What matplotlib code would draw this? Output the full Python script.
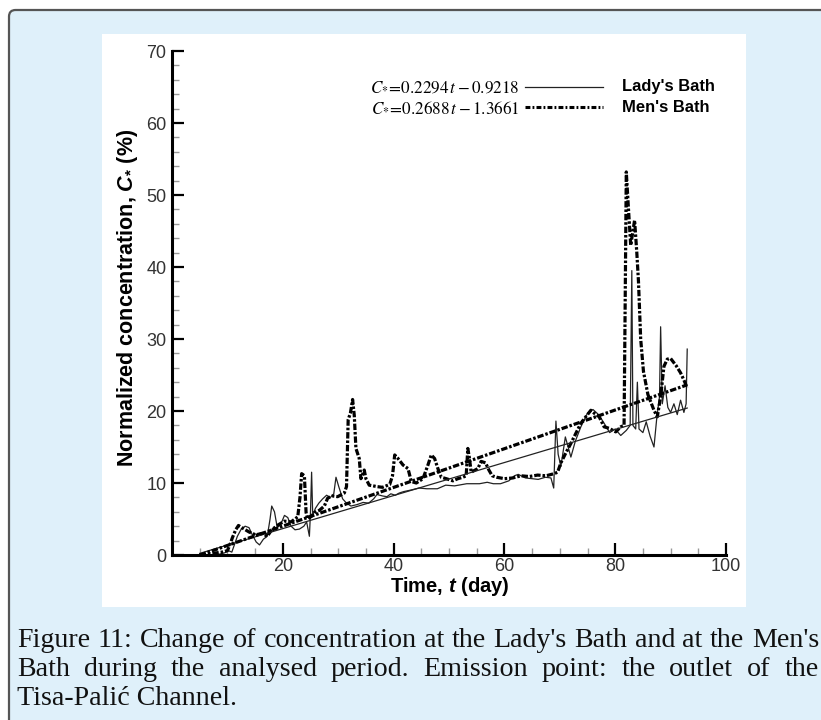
import numpy as np
import matplotlib.pyplot as plt
from matplotlib.patches import FancyBboxPatch, Rectangle
from matplotlib.lines import Line2D
from matplotlib.ticker import MultipleLocator, FixedLocator

plt.rcParams['font.family'] = ['Liberation Sans', 'DejaVu Sans']
plt.rcParams['mathtext.fontset'] = 'custom'
plt.rcParams['mathtext.rm'] = 'Liberation Sans:bold'
plt.rcParams['mathtext.it'] = 'Liberation Sans:italic:bold'
plt.rcParams['mathtext.bf'] = 'Liberation Sans:bold'

# Lady's Bath (thin solid)
lady_t = [5.0, 7.0, 8.5, 9.5, 10.2, 10.8, 11.3, 11.8, 12.5, 13.2, 13.9, 14.5, 15.2, 15.8,
          16.5, 17.2, 17.7, 18.0, 18.5, 19.0, 19.6, 20.3, 20.9, 21.5, 22.2, 23.0, 23.8,
          24.3, 24.8, 25.0, 25.2, 25.4, 25.9, 26.5, 27.2, 27.9, 28.6, 29.2, 29.6, 30.1,
          30.8, 31.5, 32.3, 33.4, 34.5, 35.5, 36.4, 37.0, 38.0, 38.8, 39.5, 40.3, 41.0,
          41.8, 43.0, 44.6, 46.0, 47.9, 49.4, 51.0, 53.2, 55.5, 56.9, 58.0, 59.3, 60.8,
          61.8, 62.5, 63.8, 65.0, 66.1, 67.4, 68.4, 68.9, 69.3, 69.7, 70.2, 71.0, 72.0,
          72.8, 73.8, 75.0, 76.0, 77.0, 78.0, 79.0, 80.0, 81.0, 82.0, 82.7, 83.0, 83.2,
          83.7, 84.0, 84.3, 85.0, 85.6, 86.3, 87.0, 87.5, 88.0, 88.2, 88.5, 89.0, 89.5,
          90.0, 90.6, 91.2, 91.8, 92.4, 92.8, 93.0]
lady_c = [0.0, 0.0, 0.1, 0.3, 0.6, 0.4, 1.5, 2.6, 3.6, 4.0, 3.8, 2.8, 1.8, 1.4,
          2.2, 2.6, 5.0, 6.8, 6.0, 3.8, 4.2, 5.5, 5.2, 4.0, 3.5, 3.6, 4.0,
          4.6, 2.6, 6.0, 11.5, 5.5, 6.5, 7.2, 7.8, 8.3, 8.0, 8.5, 10.8, 9.5,
          7.8, 7.2, 6.8, 7.0, 7.3, 7.2, 7.8, 8.4, 8.2, 8.1, 8.5, 8.3, 8.6,
          8.8, 9.0, 9.3, 9.2, 9.2, 9.7, 9.6, 9.9, 9.9, 10.1, 9.9, 9.9, 10.3,
          11.0, 11.2, 10.7, 10.6, 10.5, 10.8, 10.7, 9.3, 18.6, 14.0, 12.3, 16.4, 13.6,
          15.8, 17.8, 19.7, 20.2, 19.5, 18.3, 17.0, 17.5, 16.6, 17.3, 18.0, 39.5, 18.0,
          17.5, 24.0, 17.5, 17.0, 18.5, 16.5, 15.0, 19.0, 22.0, 31.7, 21.0, 23.5, 20.5,
          19.8, 21.0, 19.5, 21.5, 19.8, 21.0, 28.6]

# Men's Bath (thick dash-dot)
men_t = [5.0, 7.0, 9.0, 10.0, 10.5, 10.9, 11.5, 12.0, 12.6, 13.9, 15.1, 16.3, 17.2, 18.0,
         19.2, 20.3, 21.5, 22.7, 23.1, 23.4, 23.9, 24.2, 24.5, 25.2, 25.7, 26.6, 27.5,
         28.1, 29.0, 29.9, 31.1, 31.5, 31.8, 32.2, 32.6, 32.9, 33.2, 33.8, 34.1, 34.7,
         35.0, 35.6, 36.3, 37.0, 38.0, 39.3, 39.8, 40.2, 40.8, 41.7, 42.6, 43.2, 44.1,
         45.3, 46.2, 46.8, 47.4, 48.0, 48.6, 49.5, 50.7, 51.6, 52.5, 53.1, 53.4, 53.7,
         54.0, 55.2, 55.8, 56.6, 57.2, 57.8, 58.6, 60.0, 61.5, 63.0, 64.5, 66.0, 67.5,
         69.0, 69.6, 70.2, 71.1, 72.0, 72.9, 73.8, 74.7, 75.6, 76.2, 77.1, 78.0, 78.9,
         80.1, 81.0, 81.6, 81.8, 82.0, 82.4, 82.8, 83.2, 83.5, 83.9, 84.2, 84.6, 85.1,
         85.9, 87.0, 87.6, 88.2, 88.8, 89.4, 90.0, 91.0, 91.8, 92.4, 93.0]
men_c = [0.0, 0.2, 0.4, 0.6, 1.5, 2.4, 3.5, 4.1, 3.8, 3.2, 2.8, 3.0, 2.6, 3.5,
         4.2, 4.7, 4.6, 5.3, 8.0, 11.3, 11.0, 5.9, 5.0, 5.4, 5.9, 6.2, 6.8,
         7.9, 8.2, 8.1, 8.6, 9.5, 18.8, 19.7, 21.6, 19.4, 14.8, 13.4, 10.6, 11.8,
         10.6, 9.7, 9.6, 9.5, 9.4, 9.8, 11.0, 13.9, 13.4, 12.5, 12.0, 10.2, 10.0,
         10.6, 12.5, 13.9, 13.4, 12.0, 10.8, 10.6, 10.3, 10.6, 10.8, 11.0, 14.8, 13.4,
         11.5, 12.0, 13.0, 12.8, 11.8, 11.0, 10.8, 10.6, 10.7, 11.0, 10.9, 11.1, 11.0,
         11.3, 11.5, 12.8, 14.2, 15.5, 16.9, 18.3, 19.2, 20.1, 19.7, 19.2, 17.8, 17.6,
         17.1, 17.8, 18.0, 35.0, 53.2, 48.0, 43.0, 45.0, 46.5, 42.0, 38.0, 30.0, 25.5,
         22.3, 20.1, 19.2, 22.0, 26.2, 27.2, 27.3, 26.3, 25.3, 24.3, 23.2]

# linear fits: slope, intercept, t range
lady_fit = (0.2294, -0.9218)
men_fit = (0.2688, -1.3661)
fit_t = np.array([5.0, 93.0])

x_major = [20, 40, 60, 80, 100]
y_major = [0, 10, 20, 30, 40, 50, 60, 70]

caption = ["Figure 11: Change of concentration at the Lady's Bath and at the Men's",
           "Bath during the analysed period. Emission point: the outlet of the",
           "Tisa-Palić Channel."]

W, H = 821, 720
fig = plt.figure(figsize=(W / 100, H / 100), dpi=100)
fig.patch.set_facecolor('white')


def fx(px):
    return px / W


def fy(py):
    return 1 - py / H


# page background box and white figure panel (behind the axes)
box = FancyBboxPatch((fx(9), fy(760)), fx(850) - fx(9), fy(10) - fy(760),
                     boxstyle='round,pad=0,rounding_size=0.008', mutation_aspect=W / H,
                     transform=fig.transFigure, fc='#dff0fa', ec='#555555', lw=1.6,
                     zorder=-3)
fig.add_artist(box)
fig.add_artist(Rectangle((fx(102), fy(607)), fx(746) - fx(102), fy(34) - fy(607),
                         transform=fig.transFigure, fc='white', ec='none', zorder=-2))

ax = fig.add_axes([fx(172), fy(555), fx(726) - fx(172), fy(51) - fy(555)])
ax.set_facecolor('none')

dashdot = (0, (2, 0.6, 0.8, 0.6))
ax.plot(lady_t, lady_c, color='#222222', lw=0.9)
ax.plot(men_t, men_c, color='black', lw=2.3, linestyle=dashdot)
ax.plot(fit_t, lady_fit[0] * fit_t + lady_fit[1], color='#222222', lw=0.9)
ax.plot(fit_t, men_fit[0] * fit_t + men_fit[1], color='black', lw=2.3, linestyle=dashdot)

ax.set_xlim(0, 100)
ax.set_ylim(0, 70)
ax.xaxis.set_major_locator(FixedLocator(x_major))
ax.xaxis.set_minor_locator(MultipleLocator(5))
ax.yaxis.set_major_locator(FixedLocator(y_major))
ax.yaxis.set_minor_locator(MultipleLocator(2))
for s in ['top', 'right']:
    ax.spines[s].set_visible(False)
for s in ['left', 'bottom']:
    ax.spines[s].set_linewidth(2.2)
ax.tick_params(which='major', direction='in', length=8.5, width=1.6, labelsize=13,
               labelcolor='#333333', pad=4)
ax.tick_params(axis='x', which='major', pad=2)
ax.tick_params(which='minor', direction='in', length=5, width=1.0, color='#999999')

fig.text(fx(450), fy(587), r"Time, $t$ (day)", fontsize=14.5, fontweight='bold',
         ha='center', va='center')
fig.text(fx(128), fy(298), r"Normalized concentration, $C_{*}$ (%)", fontsize=15.5,
         fontweight='bold', rotation=90, ha='center', va='center')

# legend
rows = [(87, r"$C_{*}\!=\!0.2294\,t-0.9218$", "Lady's Bath", dict(color='#222222', lw=0.9)),
        (107, r"$C_{*}\!=\!0.2688\,t-1.3661$", "Men's Bath",
         dict(color='black', lw=2.2, linestyle=(0, (1.6, 0.7, 0.6, 0.7))))]
for y, eq, name, style in rows:
    fig.text(fx(520), fy(y), eq, fontsize=12.3, math_fontfamily='stix', ha='right',
             va='center')
    fig.add_artist(Line2D([fx(525), fx(603)], [fy(y), fy(y)], transform=fig.transFigure,
                          **style))
    fig.text(fx(622), fy(y), name, fontsize=11.9, fontweight='bold', ha='left',
             va='center')

# caption, justified like the page
capfont = dict(family='Liberation Serif', fontsize=14, color='#111111')
fig.canvas.draw()
r = fig.canvas.get_renderer()
probe = fig.text(0, 0, caption[0], **capfont)
w0 = probe.get_window_extent(r).width
probe.remove()
capfont['fontsize'] = 14 * 800 / w0
left, right = 17, 819
baselines = [647, 676, 705]
for i, line in enumerate(caption):
    if i == len(caption) - 1:
        fig.text(fx(left), fy(baselines[i]), line, va='baseline', **capfont)
        continue
    words = line.split()
    texts = [fig.text(0, fy(baselines[i]), w, va='baseline', **capfont) for w in words]
    widths = [t.get_window_extent(r).width for t in texts]
    gap = (right - left - sum(widths)) / (len(words) - 1)
    x = left
    for t, w in zip(texts, widths):
        t.set_x(fx(x))
        x += w + gap

plt.savefig('out.png', dpi=100)
